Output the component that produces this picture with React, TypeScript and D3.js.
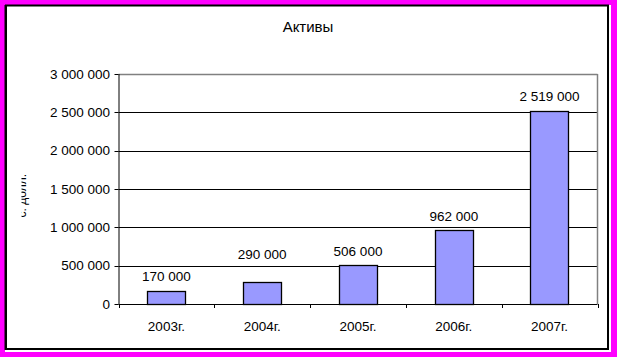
import React from "react";
import * as d3 from "d3";

const categories = ["2003г.", "2004г.", "2005г.", "2006г.", "2007г."];
const values = [170000, 290000, 506000, 962000, 2519000];
const yTicks = [0, 500000, 1000000, 1500000, 2000000, 2500000, 3000000];
const title = "Активы";
const yTitle = "тыс. долл.";

const W = 617;
const H = 357;
const plot = { left: 118.5, right: 597.5, top: 74, bottom: 304 };

const fmt = (v: number) => {
  const s = String(v);
  return s.replace(/\B(?=(\d{3})+(?!\d))/g, " ");
};

export default function App() {
  const x = d3
    .scaleBand<string>()
    .domain(categories)
    .range([plot.left, plot.right])
    .paddingInner(0.6)
    .paddingOuter(0.3);
  const xStep = d3.scaleBand<string>().domain(categories).range([plot.left, plot.right]);
  const y = d3.scaleLinear().domain([0, 3000000]).range([plot.bottom, plot.top]);
  const font = "Arial, 'Liberation Sans', sans-serif";

  const gridYs = yTicks.slice(1, -1).map((t) => y(t));
  const labelY = (v: number) => {
    let base = y(v) - 9.5;
    const top = base - 10;
    for (const g of gridYs) {
      if (g > top && g < base + 2) base = g - 7;
    }
    return base;
  };

  return (
    <svg
      width={W}
      height={H}
      style={{ position: "absolute", left: 0, top: 0, display: "block" }}
      fontFamily={font}
    >
      <defs>
        <clipPath id="ytclip">
          <rect x={21.5} y={171} width={20} height={46} />
        </clipPath>
      </defs>
      <rect x={0} y={0} width={W} height={H} fill="#FF00FF" />
      <rect x={5} y={5} width={606} height={347} fill="#fff" />
      <rect x={6} y={5.5} width={602} height={343.5} fill="#fff" stroke="#000" strokeWidth={2} />
      <line x1={5} x2={5} y1={5} y2={350} stroke="#000" strokeWidth={1} />

      <text x={308} y={32} textAnchor="middle" fontSize={15} fill="#000">
        {title}
      </text>

      {/* gridlines */}
      {yTicks.slice(1, -1).map((t) => (
        <line key={t} x1={plot.left} x2={plot.right} y1={Math.round(y(t)) + 0.5} y2={Math.round(y(t)) + 0.5} stroke="#000" />
      ))}
      {/* plot border top/right */}
      <line x1={plot.left} x2={plot.right} y1={plot.top + 0.5} y2={plot.top + 0.5} stroke="#808080" strokeWidth={1.5} />
      <line x1={plot.right} x2={plot.right} y1={plot.top} y2={plot.bottom} stroke="#808080" strokeWidth={1.5} />

      {/* bars */}
      {categories.map((c, i) => (
        <g key={c}>
          <rect
            x={Math.round(x(c)!) + 0.5}
            y={Math.round(y(values[i])) + 0.5}
            width={Math.round(x.bandwidth())}
            height={Math.round(plot.bottom - y(values[i]))}
            fill="#9999FF"
            stroke="#000"
            strokeWidth={1.3}
          />
          <text
            x={x(c)! + x.bandwidth() / 2}
            y={labelY(values[i])}
            textAnchor="middle"
            fontSize={13.5}
            fill="#000"
          >
            {fmt(values[i])}
          </text>
          <text
            x={xStep(c)! + xStep.bandwidth() / 2}
            y={331}
            textAnchor="middle"
            fontSize={13.5}
            fill="#000"
          >
            {c}
          </text>
        </g>
      ))}

      {/* axes */}
      <line x1={plot.left + 0.5} x2={plot.left + 0.5} y1={plot.top} y2={plot.bottom + 0.5} stroke="#000" />
      <line x1={plot.left} x2={plot.right} y1={plot.bottom + 0.5} y2={plot.bottom + 0.5} stroke="#000" />
      {yTicks.map((t) => (
        <g key={t}>
          <line x1={plot.left - 4} x2={plot.left} y1={Math.round(y(t)) + 0.5} y2={Math.round(y(t)) + 0.5} stroke="#000" />
          <text x={110} y={y(t) + 4.5} textAnchor="end" fontSize={13.5} fill="#000">
            {fmt(t)}
          </text>
        </g>
      ))}
      {xStep.domain().concat(["__end"]).map((c, i) => {
        const xx = i < categories.length ? xStep(c)! : plot.right;
        return (
          <line key={c} x1={Math.round(xx) + 0.5} x2={Math.round(xx) + 0.5} y1={plot.bottom} y2={plot.bottom + 4} stroke="#000" />
        );
      })}

      <g clipPath="url(#ytclip)">
        <text
          transform="translate(25.5,174) rotate(-90)"
          textAnchor="end"
          fontSize={12}
          fill="#000"
        >
          {yTitle}
        </text>
      </g>
    </svg>
  );
}
